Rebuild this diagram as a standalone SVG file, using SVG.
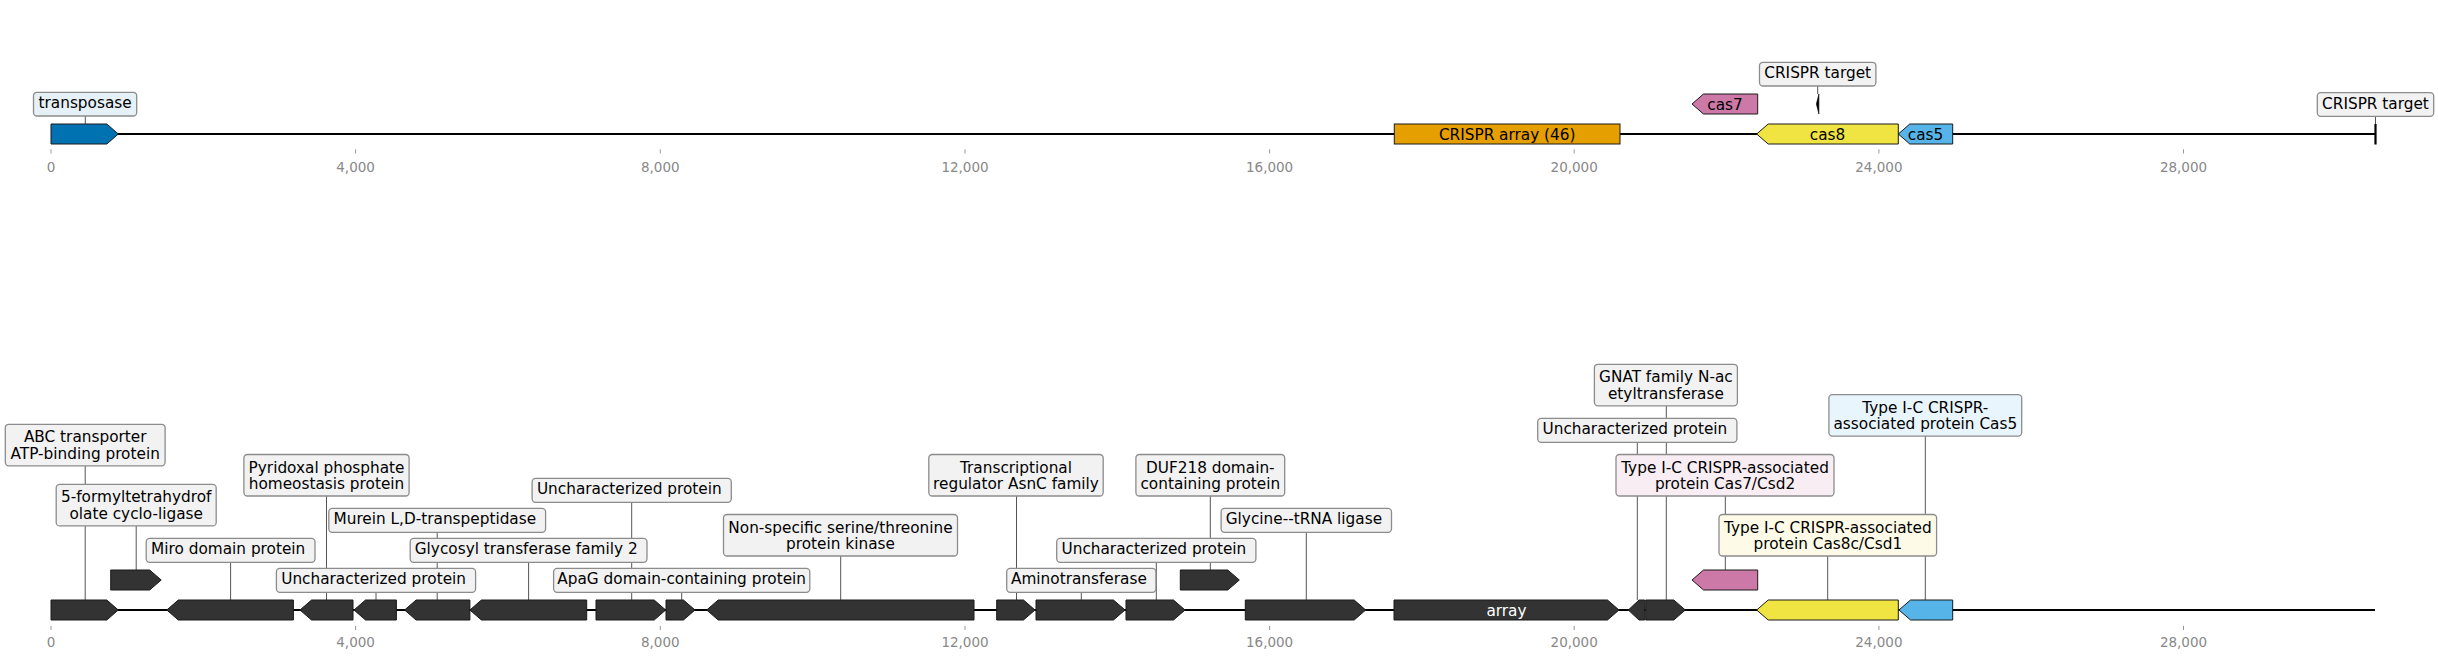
<svg xmlns="http://www.w3.org/2000/svg" width="2438" height="659" viewBox="0 0 2438 659">
<style>
text{font-family:"DejaVu Sans","Liberation Sans",sans-serif;}
.lb{fill:#f2f2f2;stroke:#8c8c8c;stroke-width:1.3;}
.lb.bl{fill:#e5f0f7;}
.lb.pk{fill:#f8edf3;}
.lb.yl{fill:#fdfbe7;}
.lb.sk{fill:#e9f5fc;}
.lt{font-size:15.3px;fill:#000;text-anchor:middle;}
.gt{font-size:15.3px;fill:#000;text-anchor:middle;}
.ld{stroke:#555;stroke-width:1;fill:none;}
.g{stroke:#1a1a1a;stroke-width:1;}
.dk{fill:#333333;}
.ax{stroke:#000;stroke-width:2.2;fill:none;}
.tk{stroke:#999;stroke-width:1;}
.tl{font-size:13.5px;fill:#888;text-anchor:middle;}
</style>
<rect width="2438" height="659" fill="#fff"/>

<g id="axes">
  <line class="ax" x1="51" y1="134" x2="2375" y2="134"/>
  <line class="ax" x1="51" y1="610" x2="2375" y2="610"/>
  <g class="tk">
    <line x1="51" y1="149.3" x2="51" y2="153.5"/><line x1="355.6" y1="149.3" x2="355.6" y2="153.5"/><line x1="660.3" y1="149.3" x2="660.3" y2="153.5"/><line x1="965" y1="149.3" x2="965" y2="153.5"/><line x1="1269.6" y1="149.3" x2="1269.6" y2="153.5"/><line x1="1574.2" y1="149.3" x2="1574.2" y2="153.5"/><line x1="1878.9" y1="149.3" x2="1878.9" y2="153.5"/><line x1="2183.5" y1="149.3" x2="2183.5" y2="153.5"/>
    <line x1="51" y1="625.8" x2="51" y2="630"/><line x1="355.6" y1="625.8" x2="355.6" y2="630"/><line x1="660.3" y1="625.8" x2="660.3" y2="630"/><line x1="965" y1="625.8" x2="965" y2="630"/><line x1="1269.6" y1="625.8" x2="1269.6" y2="630"/><line x1="1574.2" y1="625.8" x2="1574.2" y2="630"/><line x1="1878.9" y1="625.8" x2="1878.9" y2="630"/><line x1="2183.5" y1="625.8" x2="2183.5" y2="630"/>
  </g>
  <g class="tl">
    <text x="51" y="171.6">0</text><text x="355.6" y="171.6">4,000</text><text x="660.3" y="171.6">8,000</text><text x="965" y="171.6">12,000</text><text x="1269.6" y="171.6">16,000</text><text x="1574.2" y="171.6">20,000</text><text x="1878.9" y="171.6">24,000</text><text x="2183.5" y="171.6">28,000</text>
    <text x="51" y="646.6">0</text><text x="355.6" y="646.6">4,000</text><text x="660.3" y="646.6">8,000</text><text x="965" y="646.6">12,000</text><text x="1269.6" y="646.6">16,000</text><text x="1574.2" y="646.6">20,000</text><text x="1878.9" y="646.6">24,000</text><text x="2183.5" y="646.6">28,000</text>
  </g>
</g>

<g id="connectors" class="ld">
  <line x1="85.3" y1="116" x2="85.3" y2="124"/>
  <line x1="1817.7" y1="86" x2="1817.7" y2="94"/>
  <line x1="2375.5" y1="116.5" x2="2375.5" y2="124"/>
  <line x1="85.2" y1="466" x2="85.2" y2="600"/>
  <line x1="136.2" y1="526" x2="136.2" y2="570"/>
  <line x1="230.6" y1="562.3" x2="230.6" y2="600"/>
  <line x1="326.5" y1="496" x2="326.5" y2="600"/>
  <line x1="376" y1="592.3" x2="376" y2="600"/>
  <line x1="437.2" y1="532.3" x2="437.2" y2="600"/>
  <line x1="528.6" y1="562.3" x2="528.6" y2="600"/>
  <line x1="631.7" y1="502.3" x2="631.7" y2="600"/>
  <line x1="681.7" y1="592.3" x2="681.7" y2="600"/>
  <line x1="840.7" y1="555.7" x2="840.7" y2="600"/>
  <line x1="1016.5" y1="496" x2="1016.5" y2="600"/>
  <line x1="1081.3" y1="592.3" x2="1081.3" y2="600"/>
  <line x1="1156.3" y1="562.3" x2="1156.3" y2="600"/>
  <line x1="1210.3" y1="496" x2="1210.3" y2="570"/>
  <line x1="1306.3" y1="532.3" x2="1306.3" y2="600"/>
  <line x1="1637.3" y1="442.3" x2="1637.3" y2="600"/>
  <line x1="1666.3" y1="405.7" x2="1666.3" y2="600"/>
  <line x1="1725.3" y1="496" x2="1725.3" y2="570"/>
  <line x1="1827.7" y1="555.7" x2="1827.7" y2="600"/>
  <line x1="1925.3" y1="436" x2="1925.3" y2="600"/>
</g>

<g id="top-genes">
  <g id="transposase"><polygon class="g" fill="#0072B2" points="51,124 106.8,124 118.3,134 106.8,144 51,144"/></g>
  <g id="crispr-array-46"><rect class="g" fill="#E69F00" x="1394.3" y="124" width="225.7" height="20"/><text class="gt" x="1507.2" y="139.5">CRISPR array (46)</text></g>
  <g id="cas7"><polygon class="g" fill="#CC79A7" points="1692,104 1703.5,94 1757.7,94 1757.7,114 1703.5,114"/><text class="gt" x="1725" y="109.5">cas7</text></g>
  <g id="cas8"><polygon class="g" fill="#F0E442" points="1756.7,134 1768.2,124 1898.3,124 1898.3,144 1768.2,144"/><text class="gt" x="1827.5" y="139.5">cas8</text></g>
  <g id="cas5"><polygon class="g" fill="#56B4E9" points="1898.3,134 1909.8,124 1952.7,124 1952.7,144 1909.8,144"/><text class="gt" x="1925.5" y="139.5">cas5</text></g>
  <g id="crispr-target-1"><polygon fill="#000" stroke="#000" stroke-width="0.6" points="1816.4,104 1818.9,94 1818.9,114"/></g>
  <g id="crispr-target-2"><rect fill="#000" x="2374.4" y="124" width="2.2" height="20.5"/></g>
</g>

<g id="bottom-genes">
  <g id="g1"><polygon class="g dk" points="51,600 106.8,600 118.3,610 106.8,620 51,620"/></g>
  <g id="g2"><polygon class="g dk" points="110.7,570 149.7,570 161.2,580 149.7,590 110.7,590"/></g>
  <g id="g3"><polygon class="g dk" points="166.8,610 178.3,600 293.4,600 293.4,620 178.3,620"/></g>
  <g id="g4"><polygon class="g dk" points="300,610 311.5,600 353,600 353,620 311.5,620"/></g>
  <g id="g5"><polygon class="g dk" points="354,610 365.5,600 396.4,600 396.4,620 365.5,620"/></g>
  <g id="g6"><polygon class="g dk" points="404.6,610 416.1,600 469.9,600 469.9,620 416.1,620"/></g>
  <g id="g7"><polygon class="g dk" points="469.9,610 481.4,600 586.7,600 586.7,620 481.4,620"/></g>
  <g id="g8"><polygon class="g dk" points="596,600 654.2,600 665.7,610 654.2,620 596,620"/></g>
  <g id="g9"><polygon class="g dk" points="666,600 683.5,600 695,610 683.5,620 666,620"/></g>
  <g id="g10"><polygon class="g dk" points="706.7,610 718.2,600 974,600 974,620 718.2,620"/></g>
  <g id="g11"><polygon class="g dk" points="996.7,600 1023.5,600 1035,610 1023.5,620 996.7,620"/></g>
  <g id="g12"><polygon class="g dk" points="1036,600 1113.5,600 1125,610 1113.5,620 1036,620"/></g>
  <g id="g13"><polygon class="g dk" points="1126,600 1173.5,600 1185,610 1173.5,620 1126,620"/></g>
  <g id="g14"><polygon class="g dk" points="1180.3,570 1227.8,570 1239.3,580 1227.8,590 1180.3,590"/></g>
  <g id="g15"><polygon class="g dk" points="1245.3,600 1354.2,600 1365.7,610 1354.2,620 1245.3,620"/></g>
  <g id="g16"><polygon class="g dk" points="1394,600 1607.5,600 1619,610 1607.5,620 1394,620"/><text class="gt" x="1506.5" y="615.5" style="fill:#fff">array</text></g>
  <g id="g17"><polygon class="g dk" points="1628.3,610 1639,600 1644.7,600 1644.7,620 1639,620"/></g>
  <g id="g18"><polygon class="g dk" points="1645.7,600 1673.8,600 1685.3,610 1673.8,620 1645.7,620"/></g>
  <g id="g19"><polygon class="g" fill="#CC79A7" points="1692,580 1703.5,570 1757.7,570 1757.7,590 1703.5,590"/></g>
  <g id="g20"><polygon class="g" fill="#F0E442" points="1756.7,610 1768.2,600 1898.3,600 1898.3,620 1768.2,620"/></g>
  <g id="g21"><polygon class="g" fill="#56B4E9" points="1899,610 1910.5,600 1952.7,600 1952.7,620 1910.5,620"/></g>
</g>

<g id="labels">
  <g id="lbl-transposase"><rect class="lb bl" x="33.5" y="92.3" width="103.2" height="23.7" rx="3.5"/><text class="lt" x="85.1" y="108.3">transposase</text></g>
  <g id="lbl-target-1"><rect class="lb" x="1759.5" y="62.3" width="116.4" height="23.7" rx="3.5"/><text class="lt" x="1817.7" y="78.3">CRISPR target</text></g>
  <g id="lbl-target-2"><rect class="lb" x="2317.3" y="92.6" width="116.4" height="23.7" rx="3.5"/><text class="lt" x="2375.5" y="108.6">CRISPR target</text></g>

  <g id="lbl-b1"><rect class="lb" x="5.3" y="424.3" width="159.8" height="41.5" rx="3.5"/><text class="lt" x="85.2" y="442.3">ABC transporter</text><text class="lt" x="85.2" y="458.8">ATP-binding protein</text></g>
  <g id="lbl-b2"><rect class="lb" x="56.2" y="484.4" width="160" height="41.5" rx="3.5"/><text class="lt" x="136.2" y="502.4">5-formyltetrahydrof</text><text class="lt" x="136.2" y="518.9">olate cyclo-ligase</text></g>
  <g id="lbl-b3"><rect class="lb" x="146.2" y="538.4" width="168.8" height="23.9" rx="3.5"/><text class="lt" x="228.2" y="554.4">Miro domain protein</text></g>
  <g id="lbl-b4"><rect class="lb" x="243.9" y="454.5" width="165.2" height="41.5" rx="3.5"/><text class="lt" x="326.5" y="472.5">Pyridoxal phosphate</text><text class="lt" x="326.5" y="489">homeostasis protein</text></g>
  <g id="lbl-b5"><rect class="lb" x="276.4" y="568.4" width="199.2" height="23.9" rx="3.5"/><text class="lt" x="373.6" y="584.4">Uncharacterized protein</text></g>
  <g id="lbl-b6"><rect class="lb" x="328.8" y="508.4" width="216.8" height="23.9" rx="3.5"/><text class="lt" x="434.8" y="524.4">Murein L,D-transpeptidase</text></g>
  <g id="lbl-b7"><rect class="lb" x="410.2" y="538.4" width="236.8" height="23.9" rx="3.5"/><text class="lt" x="526.2" y="554.4">Glycosyl transferase family 2</text></g>
  <g id="lbl-b8"><rect class="lb" x="532.1" y="478.4" width="199.2" height="23.9" rx="3.5"/><text class="lt" x="629.3" y="494.4">Uncharacterized protein</text></g>
  <g id="lbl-b9"><rect class="lb" x="553.6" y="568.4" width="256.2" height="23.9" rx="3.5"/><text class="lt" x="681.7" y="584.4">ApaG domain-containing protein</text></g>
  <g id="lbl-b10"><rect class="lb" x="723.5" y="514.5" width="234" height="41.5" rx="3.5"/><text class="lt" x="840.5" y="532.5">Non-specific serine/threonine</text><text class="lt" x="840.5" y="549">protein kinase</text></g>
  <g id="lbl-b11"><rect class="lb" x="928.8" y="454.5" width="174.4" height="41.5" rx="3.5"/><text class="lt" x="1016" y="472.5">Transcriptional</text><text class="lt" x="1016" y="489">regulator AsnC family</text></g>
  <g id="lbl-b12"><rect class="lb" x="1006.7" y="568.4" width="149.2" height="23.9" rx="3.5"/><text class="lt" x="1078.9" y="584.4">Aminotransferase</text></g>
  <g id="lbl-b13"><rect class="lb" x="1056.7" y="538.4" width="199.2" height="23.9" rx="3.5"/><text class="lt" x="1153.9" y="554.4">Uncharacterized protein</text></g>
  <g id="lbl-b14"><rect class="lb" x="1135.9" y="454.5" width="148.8" height="41.5" rx="3.5"/><text class="lt" x="1210.3" y="472.5">DUF218 domain-</text><text class="lt" x="1210.3" y="489">containing protein</text></g>
  <g id="lbl-b15"><rect class="lb" x="1221.1" y="508.4" width="170.4" height="23.9" rx="3.5"/><text class="lt" x="1303.9" y="524.4">Glycine--tRNA ligase</text></g>
  <g id="lbl-b16"><rect class="lb" x="1537.7" y="418.4" width="199.2" height="23.9" rx="3.5"/><text class="lt" x="1634.9" y="434.4">Uncharacterized protein</text></g>
  <g id="lbl-b17"><rect class="lb" x="1594.4" y="364.3" width="143" height="41.5" rx="3.5"/><text class="lt" x="1665.9" y="382.3">GNAT family N-ac</text><text class="lt" x="1665.9" y="398.8">etyltransferase</text></g>
  <g id="lbl-b18"><rect class="lb pk" x="1616" y="454.5" width="218" height="41.5" rx="3.5"/><text class="lt" x="1725" y="472.5">Type I-C CRISPR-associated</text><text class="lt" x="1725" y="489">protein Cas7/Csd2</text></g>
  <g id="lbl-b19"><rect class="lb yl" x="1719" y="514.5" width="217.6" height="41.5" rx="3.5"/><text class="lt" x="1827.8" y="532.5">Type I-C CRISPR-associated</text><text class="lt" x="1827.8" y="549">protein Cas8c/Csd1</text></g>
  <g id="lbl-b20"><rect class="lb sk" x="1828.9" y="394.6" width="192.8" height="41.5" rx="3.5"/><text class="lt" x="1925.3" y="412.6">Type I-C CRISPR-</text><text class="lt" x="1925.3" y="429.1">associated protein Cas5</text></g>
</g>
</svg>
